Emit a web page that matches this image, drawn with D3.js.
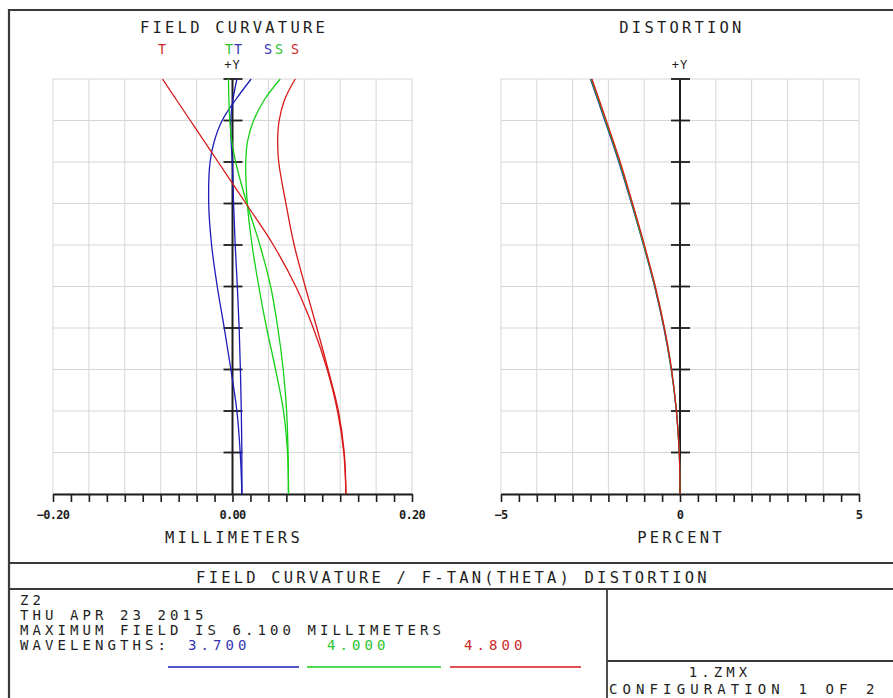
<!DOCTYPE html>
<html>
<head>
<meta charset="utf-8">
<script src="https://cdn.jsdelivr.net/npm/d3@7"></script>
<style>
  html, body { margin: 0; padding: 0; background: #fff; }
  svg { display: block; }
</style>
</head>
<body>
<svg id="chart" width="893" height="698"></svg>
<script>
// ---------------- DATA ----------------
// relative field (0 = axis, 1 = max field 6.100 mm)
const curvFields = [0, 0.1, 0.2, 0.3, 0.4, 0.5, 0.6, 0.7, 0.8, 0.85, 0.9, 0.95, 1.0];
// field curvature in millimeters
const blueT  = [0.0105, 0.0104, 0.0098, 0.0088, 0.0074, 0.0054, 0.0030, 0.0012, -0.0002, -0.0015, -0.0020, 0.0005, 0.0049];
const blueS  = [0.0105, 0.0086, 0.0049, -0.0018, -0.0092, -0.0170, -0.0233, -0.0265, -0.0250, -0.0203, -0.0115, 0.0035, 0.0208];
const greenT = [0.0624, 0.0619, 0.0603, 0.0565, 0.0505, 0.0425, 0.0305, 0.0160, 0.0035, -0.0008, -0.0030, -0.0040, -0.0045];
const greenS = [0.0624, 0.0613, 0.0568, 0.0480, 0.0380, 0.0293, 0.0218, 0.0165, 0.0148, 0.0168, 0.0235, 0.0355, 0.0532];
const redT   = [0.1264, 0.1240, 0.1170, 0.1055, 0.0900, 0.0705, 0.0455, 0.0150, -0.0160, -0.0315, -0.0470, -0.0625, -0.0780];
const redS   = [0.1264, 0.1245, 0.1180, 0.1065, 0.0940, 0.0810, 0.0687, 0.0595, 0.0515, 0.0503, 0.0520, 0.0580, 0.0699];

const distFields = [0, 0.1, 0.2, 0.3, 0.4, 0.5, 0.6, 0.7, 0.8, 0.9, 1.0];
// F-Tan(theta) distortion in percent
const blueDist  = [0, -0.02, -0.10, -0.245, -0.45, -0.71, -1.02, -1.355, -1.71, -2.10, -2.50];
const greenDist = [0, -0.02, -0.10, -0.24, -0.44, -0.70, -1.01, -1.34, -1.69, -2.08, -2.48];
const redDist   = [0, -0.02, -0.10, -0.235, -0.435, -0.69, -0.995, -1.325, -1.67, -2.06, -2.46];

const wavelengths = ["3.700", "4.000", "4.800"];
const curvTickLabels = [-0.20, 0.00, 0.20];
const distTickLabels = [-5, 0, 5];

// ---------------- LAYOUT ----------------
const svg = d3.select("#chart");
const COLORS = ["#1c1cb8", "#16d016", "#d81818"];
const TEXT_COLORS = ["#3535b0", "#2ec42e", "#cc2a2a"];
const FONT = "'DejaVu Sans Mono', monospace";
const INK = "#1e1e1e";

svg.append("rect").attr("width", 893).attr("height", 698).attr("fill", "#fff");

const yTop = 79, yBot = 494;
const yScale = d3.scaleLinear().domain([0, 1]).range([yBot, yTop]);
const xCurv = d3.scaleLinear().domain([-0.2, 0.2]).range([53, 412]);
const xDist = d3.scaleLinear().domain([-5, 5]).range([501, 859]);

function drawPanel(x, step, minorStep, labels, fmt) {
  const g = svg.append("g");
  const [d0, d1] = x.domain();
  const vTicks = d3.range(0, 11).map(i => d0 + i * step);
  const hTicks = d3.range(0, 11).map(i => i / 10);
  // grid
  g.selectAll(".vg").data(vTicks).join("line")
    .attr("x1", d => x(d)).attr("x2", d => x(d))
    .attr("y1", yTop).attr("y2", yBot)
    .attr("stroke", "#d6d6d6").attr("stroke-width", 1);
  g.selectAll(".hg").data(hTicks).join("line")
    .attr("x1", x(d0)).attr("x2", x(d1))
    .attr("y1", d => yScale(d)).attr("y2", d => yScale(d))
    .attr("stroke", "#d6d6d6").attr("stroke-width", 1);
  // bottom axis
  const minor = d3.range(0, Math.round((d1 - d0) / minorStep) + 1).map(i => d0 + i * minorStep);
  const axis = d3.axisBottom(x).tickValues(minor).tickSize(8).tickSizeOuter(0)
    .tickFormat(() => "");
  const ax = g.append("g").attr("transform", `translate(0,${yBot})`).call(axis);
  ax.select(".domain").attr("stroke", INK).attr("stroke-width", 2);
  ax.selectAll(".tick line").attr("stroke", INK).attr("stroke-width", 1.6);
  g.selectAll(".tl").data(labels).join("text")
    .attr("x", d => x(d)).attr("y", 519)
    .attr("text-anchor", "middle")
    .attr("font-family", FONT).attr("font-weight", "bold").attr("font-size", 12)
    .attr("letter-spacing", -0.7)
    .attr("fill", INK).text(d => fmt(d));
  // vertical +Y axis
  g.append("line").attr("x1", x(0)).attr("x2", x(0)).attr("y1", yBot).attr("y2", yTop)
    .attr("stroke", INK).attr("stroke-width", 2);
  g.selectAll(".yt").data(hTicks.slice(1)).join("line")
    .attr("x1", x(0) - 9).attr("x2", x(0) + 10)
    .attr("y1", d => yScale(d)).attr("y2", d => yScale(d))
    .attr("stroke", INK).attr("stroke-width", 1.8);
  g.append("text").attr("x", x(0)).attr("y", 69).attr("text-anchor", "middle")
    .attr("font-family", FONT).attr("font-size", 12).attr("letter-spacing", 1)
    .attr("fill", INK).text("+Y");
  return g;
}

drawPanel(xCurv, 0.04, 0.02, curvTickLabels, d3.format(".2f"));
drawPanel(xDist, 1, 0.5, distTickLabels, d3.format("d"));

// curves
const curvLine = d3.line()
  .x(d => xCurv(d[1])).y(d => yScale(d[0]))
  .curve(d3.curveCatmullRom.alpha(0.5));
const distLine = d3.line()
  .x(d => xDist(d[1])).y(d => yScale(d[0]))
  .curve(d3.curveCatmullRom.alpha(0.5));

const curvSeries = [[blueT, blueS], [greenT, greenS], [redT, redS]];
curvSeries.forEach((pair, i) => {
  pair.forEach(vals => {
    svg.append("path")
      .attr("d", curvLine(curvFields.map((f, k) => [f, vals[k]])))
      .attr("fill", "none").attr("stroke", COLORS[i]).attr("stroke-width", 1.3);
  });
});
[blueDist, greenDist, redDist].forEach((vals, i) => {
  svg.append("path")
    .attr("d", distLine(distFields.map((f, k) => [f, vals[k]])))
    .attr("fill", "none").attr("stroke", COLORS[i]).attr("stroke-width", 1.3);
});

// T / S labels above the field curvature plot
const tsLabels = [
  { t: "T", x: 162, c: 2 }, { t: "T", x: 229, c: 1 }, { t: "T", x: 238, c: 0 },
  { t: "S", x: 268, c: 0 }, { t: "S", x: 279, c: 1 }, { t: "S", x: 295, c: 2 }
];
svg.selectAll(".ts").data(tsLabels).join("text")
  .attr("x", d => d.x).attr("y", 54).attr("text-anchor", "middle")
  .attr("font-family", FONT).attr("font-size", 13.5)
  .attr("fill", d => TEXT_COLORS[d.c]).text(d => d.t);

// titles and text
function txt(s, x, y, anchor, opts = {}) {
  return svg.append("text").attr("x", x).attr("y", y).attr("text-anchor", anchor)
    .attr("font-family", FONT).attr("font-size", opts.size || 15.5)
    .attr("letter-spacing", opts.ls !== undefined ? opts.ls : 3.2)
    .attr("fill", opts.fill || INK).text(s);
}
const SMALL = { size: 14, ls: 4.07 };
txt("FIELD CURVATURE", 234, 33, "middle");
txt("DISTORTION", 682, 33, "middle");
txt("MILLIMETERS", 234, 543, "middle");
txt("PERCENT", 681, 543, "middle");
txt("FIELD CURVATURE / F-TAN(THETA) DISTORTION", 453, 583, "middle");
txt("Z2", 20, 605, "start", SMALL);
txt("THU APR 23 2015", 20, 620, "start", SMALL);
txt("MAXIMUM FIELD IS 6.100 MILLIMETERS", 20, 635, "start", SMALL);
txt("WAVELENGTHS:", 20, 650, "start", SMALL);
const wlX = [188, 327, 464];
wavelengths.forEach((w, i) => txt(w, wlX[i], 650, "start", { ...SMALL, fill: TEXT_COLORS[i] }));
const legX = [[168, 299], [307, 441], [450, 581]];
legX.forEach((p, i) => svg.append("line").attr("x1", p[0]).attr("x2", p[1])
  .attr("y1", 667).attr("y2", 667).attr("stroke", COLORS[i]).attr("stroke-width", 1.5));
txt("1.ZMX", 720, 677, "middle", SMALL);
txt("CONFIGURATION 1 OF 2", 609, 694, "start", { size: 14, ls: 5.1 });

// frame lines
const frame = svg.append("g").attr("stroke", "#3a3a3a").attr("fill", "none");
frame.append("path").attr("d", "M9,698 L9,10 L893,10").attr("stroke-width", 2.2);
frame.append("line").attr("x1", 9).attr("x2", 893).attr("y1", 563).attr("y2", 563).attr("stroke-width", 1.8);
frame.append("line").attr("x1", 9).attr("x2", 893).attr("y1", 589).attr("y2", 589).attr("stroke-width", 1.8);
frame.append("line").attr("x1", 607).attr("x2", 607).attr("y1", 589).attr("y2", 698).attr("stroke-width", 1.8);
frame.append("line").attr("x1", 607).attr("x2", 893).attr("y1", 661).attr("y2", 661).attr("stroke-width", 1.8);
</script>
</body>
</html>
